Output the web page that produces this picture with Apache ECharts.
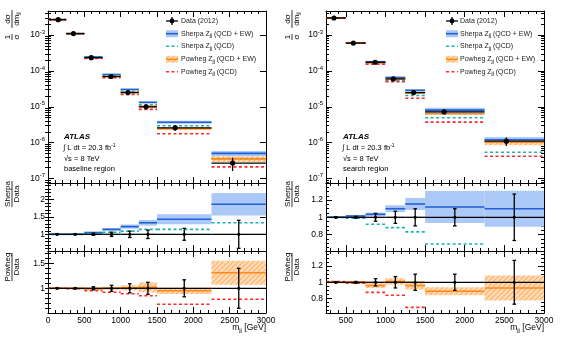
<!DOCTYPE html>
<html><head><meta charset="utf-8">
<script src="https://cdn.jsdelivr.net/npm/echarts@6/dist/echarts.min.js"></script>
<style>html,body{margin:0;padding:0;background:#fff}#c{width:562px;height:342px}</style>
</head><body><div id="c"></div>
<script>
// ---------------- data ----------------
// baseline region (left)
const edgesL = [0, 250, 500, 750, 1000, 1250, 1500, 2250, 3000];
const xMeanL = [140, 350, 595, 868, 1100, 1350, 1750, 2540];
const dataL = [2.7e-3, 1.1e-3, 2.35e-4, 7.0e-5, 2.5e-5, 1.0e-5, 2.6e-6, 2.7e-7];
const dataErrL = [0.005, 0.01, 0.03, 0.06, 0.09, 0.12, 0.17, 0.4];
const sherpaEwL = [1.0, 1.0, 1.05, 1.14, 1.22, 1.33, 1.43, 1.86];
const sherpaEwErrL = [0.01, 0.01, 0.02, 0.04, 0.06, 0.08, 0.14, 0.32];
const sherpaQcdL = [1.0, 1.0, 1.02, 1.06, 1.09, 1.14, 1.14, 1.33];
const powhegEwL = [1.0, 1.0, 0.99, 1.0, 1.01, 1.02, 0.95, 1.31];
const powhegEwErrL = [0.01, 0.01, 0.03, 0.03, 0.05, 0.1, 0.065, 0.24];
const powhegQcdL = [1.0, 0.99, 0.95, 0.92, 0.89, 0.85, 0.68, 0.78];
// search region (right)
const edgesR = [250, 500, 750, 1000, 1250, 1500, 2250, 3000];
const xMeanR = [350, 595, 870, 1100, 1355, 1740, 2525];
const dataR = [3.0e-3, 6.0e-4, 1.75e-4, 6.0e-5, 2.5e-5, 7.2e-6, 1.1e-6];
const dataErrR = [0.005, 0.01, 0.045, 0.07, 0.1, 0.1, 0.27];
const sherpaEwR = [1.0, 1.015, 1.035, 1.10, 1.155, 1.12, 1.10];
const sherpaEwErrR = [0.01, 0.01, 0.02, 0.04, 0.07, 0.185, 0.21];
const sherpaQcdR = [1.0, 0.99, 0.92, 0.88, 0.83, 0.69, 0.49];
const powhegEwR = [1.0, 1.0, 0.96, 1.01, 0.96, 0.89, 0.93];
const powhegEwErrR = [0.01, 0.015, 0.03, 0.04, 0.05, 0.05, 0.155];
const powhegQcdR = [1.01, 0.99, 0.875, 0.84, 0.69, 0.52, 0.38];
// tick labels
const xTicksL = [0, 500, 1000, 1500, 2000, 2500, 3000];
const xTicksR = [500, 1000, 1500, 2000, 2500, 3000];
const logTicks = [1e-7, 1e-6, 1e-5, 1e-4, 1e-3];
const ratioTicksL1 = [1, 1.5, 2];
const ratioTicksL2 = [1, 1.5];
const ratioTicksR = [0.8, 1, 1.2];
const legendLabels = ['Data (2012)', 'Sherpa Z{s|jj} (QCD + EW)', 'Sherpa Z{s|jj} (QCD)', 'Powheg Z{s|jj} (QCD + EW)', 'Powheg Z{s|jj} (QCD)'];

// ---------------- styling ----------------
const FONT = 'Liberation Sans, Arial, Helvetica, sans-serif';
const C_SH = '#1f5fd8', C_SHQ = '#18b4b4', C_PW = '#ff8a1c', C_PWQ = '#ff2a2a';
function hatch(bg, fg, dir) {
  const c = document.createElement('canvas'); c.width = c.height = 5;
  const g = c.getContext('2d'); g.fillStyle = bg; g.fillRect(0, 0, 5, 5);
  g.strokeStyle = fg; g.lineWidth = 1.2; g.beginPath();
  if (dir > 0) { g.moveTo(-1, 6); g.lineTo(6, -1); g.moveTo(-1, 1); g.lineTo(1, -1); g.moveTo(4, 6); g.lineTo(6, 4); }
  else { g.moveTo(-1, -1); g.lineTo(6, 6); g.moveTo(4, -1); g.lineTo(6, 1); g.moveTo(-1, 4); g.lineTo(1, 6); }
  g.stroke(); return c;
}
const PAT_SH = { image: hatch('#b8c2f6', '#8fd8f8', -1), repeat: 'repeat' };
const PAT_PW = { image: hatch('#ffdcb8', '#ffb066', 1), repeat: 'repeat' };

const grids = [
  { left: 48, top: 11, width: 218, height: 172 },
  { left: 48, top: 183, width: 218, height: 68 },
  { left: 48, top: 251, width: 218, height: 62 },
  { left: 326, top: 11, width: 218, height: 172 },
  { left: 326, top: 183, width: 218, height: 68 },
  { left: 326, top: 251, width: 218, height: 62 }
];
const range = (a, b, s) => { const r = []; for (let v = a; v <= b + 1e-9; v += s) r.push(+v.toFixed(6)); return r; };
const logMinor = []; for (let e = -8; e <= -3; e++) for (let m = 2; m <= 9; m++) logMinor.push(m * Math.pow(10, e));

const xAxes = [], yAxes = [];
function addAxes(gi, xr, xMaj, xMin, xLab, yType, yr, yMaj, yMin, yFmt) {
  const base = o => Object.assign({ gridIndex: gi, splitLine: { show: false }, axisPointer: { show: false } }, o);
  ['bottom', 'top'].forEach(pos => {
    xAxes.push(base({ type: 'value', position: pos, min: xr[0], max: xr[1],
      axisLine: { show: true, onZero: false, lineStyle: { color: '#000', width: 1 } },
      axisTick: { show: true, inside: true, length: 6, customValues: xMaj, lineStyle: { color: '#000' } },
      axisLabel: { show: pos === 'bottom' && xLab, customValues: xMaj, margin: 3, fontSize: 8.5, color: '#000', fontFamily: FONT,
        formatter: v => String(v) } }));
    xAxes.push(base({ type: 'value', position: pos, min: xr[0], max: xr[1],
      axisLine: { show: false }, axisTick: { show: true, inside: true, length: 3, customValues: xMin, lineStyle: { color: '#000' } },
      axisLabel: { show: false } }));
  });
  ['left', 'right'].forEach(pos => {
    const ext = yType === 'log' ? { logBase: 10 } : {};
    yAxes.push(base(Object.assign({ type: yType, position: pos, min: yr[0], max: yr[1],
      axisLine: { show: true, onZero: false, lineStyle: { color: '#000', width: 1 } },
      axisTick: { show: true, inside: true, length: 6, customValues: yMaj, lineStyle: { color: '#000' } },
      axisLabel: { show: pos === 'left', customValues: yMaj, margin: 3, fontSize: 8.5, color: '#000', fontFamily: FONT,
        formatter: yFmt, rich: { b: { fontSize: 8.5, fontFamily: FONT, color: '#000' }, s: { fontSize: 6, fontFamily: FONT, color: '#000', padding: [0, 0, 6, 0] } } } }, ext)));
    yAxes.push(base(Object.assign({ type: yType, position: pos, min: yr[0], max: yr[1],
      axisLine: { show: false }, axisTick: { show: true, inside: true, length: 3, customValues: yMin, lineStyle: { color: '#000' } },
      axisLabel: { show: false } }, ext)));
  });
}
const logFmt = v => '{b|10}{s|' + Math.round(Math.log10(v)) + '}';
const numFmt = v => String(+v.toFixed(2));
const inR = (a, lo, hi) => a.filter(v => v > lo && v < hi);

const xMinL = range(0, 3000, 100), xMinR = inR(range(300, 3000, 100), 250, 3001);
addAxes(0, [0, 3000], xTicksL, xMinL, false, 'log', [7.5e-8, 4.7e-3], logTicks, inR(logMinor, 7.5e-8, 4.7e-3), logFmt);
addAxes(1, [0, 3000], xTicksL, xMinL, false, 'value', [0.523, 2.466], ratioTicksL1, range(0.6, 2.4, 0.1), numFmt);
addAxes(2, [0, 3000], xTicksL, xMinL, true, 'value', [0.506, 1.746], ratioTicksL2, range(0.6, 1.7, 0.1), numFmt);
addAxes(3, [250, 3000], xTicksR, xMinR, false, 'log', [7.5e-8, 4.7e-3], logTicks, inR(logMinor, 7.5e-8, 4.7e-3), logFmt);
addAxes(4, [250, 3000], xTicksR, xMinR, false, 'value', [0.608, 1.399], ratioTicksR, range(0.65, 1.35, 0.05), numFmt);
addAxes(5, [250, 3000], xTicksR, xMinR, true, 'value', [0.621, 1.386], ratioTicksR, range(0.65, 1.35, 0.05), numFmt);

// ---------------- series ----------------
const series = [];
function cs(gi, data, render, enc, z) {
  series.push({ type: 'custom', xAxisIndex: 4 * gi, yAxisIndex: 4 * gi, clip: true, silent: true, animation: false,
    z: z || 2, data: data, encode: enc, renderItem: render });
}
function stepLines(gi, edges, vals, color, width, dash, z) {
  const data = vals.map((v, i) => [edges[i], edges[i + 1], v]);
  cs(gi, data, (p, api) => {
    const a = api.coord([api.value(0), api.value(2)]), b = api.coord([api.value(1), api.value(2)]);
    return { type: 'line', shape: { x1: a[0], y1: a[1], x2: b[0], y2: b[1] }, style: { stroke: color, lineWidth: width, lineDash: dash || null } };
  }, { x: [0, 1], y: [2] }, z);
}
function bands(gi, edges, lo, hi, fill, z) {
  const data = lo.map((v, i) => [edges[i], edges[i + 1], v, hi[i]]);
  cs(gi, data, (p, api) => {
    const a = api.coord([api.value(0), api.value(3)]), b = api.coord([api.value(1), api.value(2)]);
    return { type: 'rect', shape: { x: a[0], y: a[1], width: b[0] - a[0], height: b[1] - a[1] }, style: { fill: fill } };
  }, { x: [0, 1], y: [2, 3] }, z);
}
function dataPts(gi, edges, xm, vals, lo, hi, rad, cap) {
  const data = vals.map((v, i) => [edges[i], edges[i + 1], xm[i], v, lo[i], hi[i]]);
  cs(gi, data, (p, api) => {
    const a = api.coord([api.value(0), api.value(3)]), b = api.coord([api.value(1), api.value(3)]);
    const m = api.coord([api.value(2), api.value(3)]);
    const l = api.coord([api.value(2), api.value(4)]), h = api.coord([api.value(2), api.value(5)]);
    const st = { stroke: '#000', lineWidth: 1.3 };
    const ch = [
      { type: 'line', shape: { x1: a[0], y1: a[1], x2: b[0], y2: b[1] }, style: st },
      { type: 'line', shape: { x1: l[0], y1: l[1], x2: h[0], y2: h[1] }, style: st },
      { type: 'circle', shape: { cx: m[0], cy: m[1], r: rad }, style: { fill: '#000' } }
    ];
    if (cap) {
      ch.push({ type: 'line', shape: { x1: l[0] - cap, y1: l[1], x2: l[0] + cap, y2: l[1] }, style: st });
      ch.push({ type: 'line', shape: { x1: h[0] - cap, y1: h[1], x2: h[0] + cap, y2: h[1] }, style: st });
    }
    return { type: 'group', children: ch };
  }, { x: [0, 1, 2], y: [3, 4, 5] }, 10);
}
function column(g0, edges, xm, d, dErr, sEw, sEwE, sQ, pEw, pEwE, pQ) {
  const mul = (r) => r.map((v, i) => v * d[i]);
  const centers = d.map((v, i) => (edges[i] + edges[i + 1]) / 2);
  // main panel
  bands(g0, edges, sEw.map((v, i) => (v - sEwE[i]) * d[i]), sEw.map((v, i) => (v + sEwE[i]) * d[i]), PAT_SH, 2);
  bands(g0, edges, pEw.map((v, i) => (v - pEwE[i]) * d[i]), pEw.map((v, i) => (v + pEwE[i]) * d[i]), PAT_PW, 3);
  stepLines(g0, edges, mul(sEw), C_SH, 1.6, null, 4);
  stepLines(g0, edges, mul(sQ), C_SHQ, 1.6, [3, 2.5], 4);
  stepLines(g0, edges, mul(pEw), C_PW, 1.6, null, 5);
  stepLines(g0, edges, mul(pQ), C_PWQ, 1.6, [3, 2.5], 5);
  dataPts(g0, edges, xm, d, d.map((v, i) => v * (1 - dErr[i])), d.map((v, i) => v * (1 + dErr[i])), 2.6, 0);
  const ones = d.map(() => 1);
  // Sherpa / Data
  bands(g0 + 1, edges, sEw.map((v, i) => v - sEwE[i]), sEw.map((v, i) => v + sEwE[i]), PAT_SH, 2);
  stepLines(g0 + 1, edges, sEw, C_SH, 1.6, null, 4);
  stepLines(g0 + 1, edges, sQ, C_SHQ, 1.6, [3, 2.5], 4);
  dataPts(g0 + 1, edges, centers, ones, dErr.map(e => 1 - e), dErr.map(e => 1 + e), 1.6, 1.8);
  // Powheg / Data
  bands(g0 + 2, edges, pEw.map((v, i) => v - pEwE[i]), pEw.map((v, i) => v + pEwE[i]), PAT_PW, 2);
  stepLines(g0 + 2, edges, pEw, C_PW, 1.6, null, 4);
  stepLines(g0 + 2, edges, pQ, C_PWQ, 1.6, [3, 2.5], 4);
  dataPts(g0 + 2, edges, centers, ones, dErr.map(e => 1 - e), dErr.map(e => 1 + e), 1.6, 1.8);
}
column(0, edgesL, xMeanL, dataL, dataErrL, sherpaEwL, sherpaEwErrL, sherpaQcdL, powhegEwL, powhegEwErrL, powhegQcdL);
column(3, edgesR, xMeanR, dataR, dataErrR, sherpaEwR, sherpaEwErrR, sherpaQcdR, powhegEwR, powhegEwErrR, powhegQcdR);

// ---------------- graphics: legends, labels, titles ----------------
const graphic = [];
const T = (x, y, text, o) => graphic.push({ type: 'text', x: x, y: y, silent: true, z: 100,
  style: Object.assign({ text: text, fontFamily: FONT, fontSize: 7, fill: '#000', verticalAlign: 'middle',
    rich: { s: { fontSize: 5, fontFamily: FONT, fill: '#000', padding: [4, 0, 0, 0] }, u: { fontSize: 5, fontFamily: FONT, fill: '#000', padding: [0, 0, 5, 0] } } }, o || {}) });
function legend(x0, tx) {
  const rows = [21, 33.7, 46.3, 59.3, 71.7];
  const w = 12, cx = x0 + w / 2;
  const L = (x1, y1, x2, y2, stroke, lw, dash) => graphic.push({ type: 'line', silent: true, z: 100, shape: { x1, y1, x2, y2 }, style: { stroke, lineWidth: lw, lineDash: dash || null } });
  let y = rows[0];
  L(x0, y, x0 + w, y, '#000', 1.3); L(cx, y - 4, cx, y + 4, '#000', 1.3);
  graphic.push({ type: 'circle', silent: true, z: 100, shape: { cx: cx, cy: y, r: 2.4 }, style: { fill: '#000' } });
  y = rows[1];
  graphic.push({ type: 'rect', silent: true, z: 100, shape: { x: x0, y: y - 3.5, width: w, height: 7 }, style: { fill: PAT_SH } });
  L(x0, y, x0 + w, y, C_SH, 1.6);
  y = rows[2]; L(x0, y, x0 + w, y, C_SHQ, 1.6, [3, 2.5]);
  y = rows[3];
  graphic.push({ type: 'rect', silent: true, z: 100, shape: { x: x0, y: y - 3.5, width: w, height: 7 }, style: { fill: PAT_PW } });
  L(x0, y, x0 + w, y, C_PW, 1.6);
  y = rows[4]; L(x0, y, x0 + w, y, C_PWQ, 1.6, [3, 2.5]);
  legendLabels.forEach((t, i) => T(tx, rows[i], t, { fill: '#222' }));
}
legend(166, 181);
legend(446, 460);
function atlas(x, region) {
  T(x, 136.5, 'ATLAS', { fontWeight: 'bold', fontStyle: 'italic', fontSize: 8 });
  T(x - 1, 147.7, '\u222B L dt = 20.3 fb{u|-1}', { fontSize: 7.5 });
  T(x, 158.7, '\u221As = 8 TeV', { fontSize: 7.5 });
  T(x, 168.7, region, { fontSize: 7.5 });
}
atlas(64, 'baseline region');
atlas(343, 'search region');
// x-axis titles
T(266, 328, 'm{s|jj} [GeV]', { align: 'right', fontSize: 8.5, rich: { s: { fontSize: 6, fontFamily: FONT, fill: '#000', padding: [5, 0, 0, 0] } } });
T(544, 328, 'm{s|jj} [GeV]', { align: 'right', fontSize: 8.5, rich: { s: { fontSize: 6, fontFamily: FONT, fill: '#000', padding: [5, 0, 0, 0] } } });
// rotated y titles (fractions)
function frac(xc, yc, num, den, half, fs) {
  graphic.push({ type: 'group', x: xc, y: yc, rotation: Math.PI / 2, silent: true, z: 100, children: [
    { type: 'text', x: 0, y: -4.5, style: { text: num, fontFamily: FONT, fontSize: fs, fill: '#000', align: 'center', verticalAlign: 'middle' } },
    { type: 'line', shape: { x1: -half, y1: 0, x2: half, y2: 0 }, style: { stroke: '#000', lineWidth: 0.8 } },
    { type: 'text', x: 0, y: 5, style: { text: den, fontFamily: FONT, fontSize: fs, fill: '#000', align: 'center', verticalAlign: 'middle',
      rich: { s: { fontSize: 5, fontFamily: FONT, fill: '#000', padding: [4, 0, 0, 0] } } } }
  ] });
}
function topTitle(xc) {
  frac(xc, 37, '1', '\u03C3', 3, 8);
  frac(xc, 19, 'd\u03C3', 'dm{s|jj}', 9, 8);
}
topTitle(12); topTitle(292);
frac(12, 194, 'Sherpa', 'Data', 13, 8);
frac(12, 267, 'Powheg', 'Data', 14, 8);
frac(292, 194, 'Sherpa', 'Data', 13, 8);
frac(292, 267, 'Powheg', 'Data', 14, 8);

const chart = echarts.init(document.getElementById('c'), null, { renderer: 'canvas' });
chart.setOption({ animation: false, backgroundColor: '#fff', grid: grids, xAxis: xAxes, yAxis: yAxes, series: series, graphic: graphic });
</script></body></html>
